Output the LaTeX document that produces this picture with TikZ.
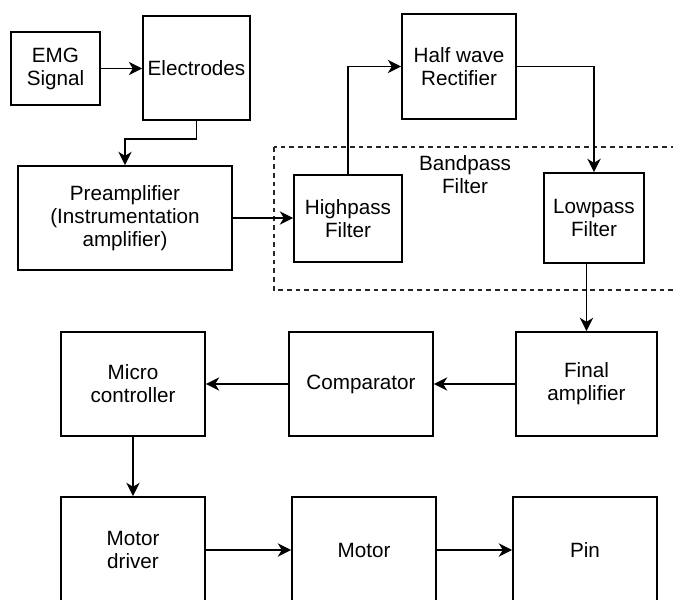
\documentclass[tikz,border=0pt]{standalone}
\usepackage{fontspec}
\setmainfont{Liberation Sans}
\usetikzlibrary{arrows.meta}

\begin{document}
\begin{tikzpicture}[x=0.75pt,y=-0.75pt,
  >={Stealth[length=10pt,width=10pt,inset=3pt]},
  blockbox/.style={draw,line width=1.3pt,align=center,inner sep=0pt,
    font=\fontsize{15.5}{17.25}\selectfont},
  boxsize/.style 2 args={minimum width=#1*0.75pt,minimum height=#2*0.75pt},
  flow/.style={->,line width=1.3pt}]

  % visible area
  \useasboundingbox (0,0) rectangle (673,599);
  \clip (0,0) rectangle (673,599);

  % bandpass group
  \draw[line width=1pt,dash pattern=on 3.5pt off 3pt,gray!30!black]
    (274,147) rectangle (700,290);
  \node[font=\fontsize{15.5}{17.25}\selectfont,align=center]
    (bandlbl) at (465,175) {Bandpass\\Filter};

  % input chain
  \node[blockbox,boxsize={89}{73}]   (emg)  at (55.5,68.5) {EMG\\Signal};
  \node[blockbox,boxsize={107}{104}] (elec) at (196.5,68)  {Electrodes};
  \node[blockbox,boxsize={214}{104}] (pre)  at (125,218)
    {Preamplifier\\(Instrumentation\\amplifier)};

  % filters and rectifier
  \node[blockbox,boxsize={108}{87}]  (high) at (348,218.5) {Highpass\\Filter};
  \node[blockbox,boxsize={114}{105}] (half) at (459,66.5)  {Half wave\\Rectifier};
  \node[blockbox,boxsize={100}{90}]  (low)  at (594,218)   {Lowpass\\Filter};

  % middle row
  \node[blockbox,boxsize={141}{104}] (final) at (586.5,384) {Final\\amplifier};
  \node[blockbox,boxsize={144}{104}] (comp)  at (361,384)   {Comparator};
  \node[blockbox,boxsize={144}{104}] (micro) at (133,384)   {Micro\\controller};

  % bottom row
  \node[blockbox,boxsize={144}{106}] (driver) at (133,550) {Motor\\driver};
  \node[blockbox,boxsize={144}{106}] (motor)  at (364,550) {Motor};
  \node[blockbox,boxsize={144}{106}] (pin)    at (585,550) {Pin};

  % connections
  \draw[flow] (emg.east) -- (emg.east -| elec.west);
  \draw[flow] (elec.south) -- ++(0,18) -| (pre.north);
  \draw[flow] (pre.east) -- (pre.east -| high.west);
  \draw[flow] (high.north) |- (half.west);
  \draw[flow] (half.east) -| (low.north);
  \draw[flow] (final.north |- low.south) -- (final.north);
  \draw[flow] (final) -- (comp);
  \draw[flow] (comp) -- (micro);
  \draw[flow] (micro) -- (driver);
  \draw[flow] (driver) -- (motor);
  \draw[flow] (motor) -- (pin);

\end{tikzpicture}
\end{document}
